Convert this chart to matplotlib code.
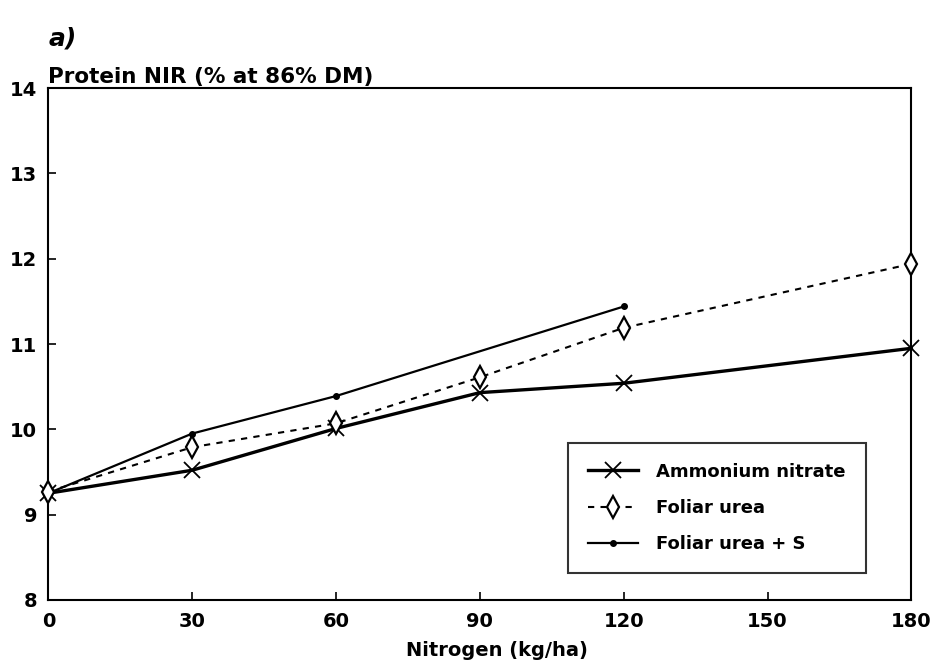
import numpy as np
import matplotlib.pyplot as plt

plt.rcParams['font.family'] = ['DejaVu Sans']
plt.rcParams['font.weight'] = 'bold'

# data
n_an = [0, 30, 60, 90, 120, 180]
an = [9.25, 9.52, 10.01, 10.43, 10.54, 10.95]
n_fu = [0, 30, 60, 90, 120, 180]
fu = [9.27, 9.79, 10.07, 10.61, 11.19, 11.94]
n_fus = [0, 30, 60, 120]
fus = [9.25, 9.95, 10.39, 11.44]

xticks = [0, 30, 60, 90, 120, 150, 180]
yticks = [8, 9, 10, 11, 12, 13, 14]

fig = plt.figure(figsize=(9.3, 6.68), dpi=100)
ax = fig.add_axes([0.052, 0.102, 0.928, 0.766])

ax.plot(n_an, an, color='k', lw=2.4, marker='x', ms=11, mew=1.3,
        label='Ammonium nitrate', clip_on=False, zorder=3)
ax.plot(n_fu, fu, color='k', lw=1.5, ls=(0, (3, 3)), marker='d', ms=11,
        mfc='white', mew=1.6, label='Foliar urea', clip_on=False, zorder=4)
ax.plot(n_fus, fus, color='k', lw=1.6, marker='o', ms=4,
        label='Foliar urea + S', clip_on=False, zorder=3)

ax.set_xlim(0, 180)
ax.set_ylim(8, 14)
ax.set_xticks(xticks)
ax.set_yticks(yticks)
ax.tick_params(direction='in', length=6, width=1.2, labelsize=14, pad=9)
ax.tick_params(axis='y', pad=8)
for s in ax.spines.values():
    s.set_linewidth(1.5)

ax.set_xlabel('Nitrogen (kg/ha)', fontsize=14, fontweight='bold')
ax.xaxis.set_label_coords(0.52, -0.08)
fig.text(0.052, 0.87, 'Protein NIR (% at 86% DM)', fontsize=15.5,
         fontweight='bold', ha='left', va='bottom')
fig.text(0.052, 0.925, 'a)', fontsize=18, fontweight='bold',
         fontstyle='italic', ha='left', va='bottom')

leg = ax.legend(loc='lower right', bbox_to_anchor=(0.947, 0.053), fontsize=13,
                frameon=True, fancybox=False, edgecolor='k',
                borderpad=1.1, labelspacing=1.0, handlelength=2.8,
                handletextpad=1.0, borderaxespad=0)
leg.get_frame().set_linewidth(1.5)
for t in leg.get_texts():
    t.set_fontweight('bold')

fig.savefig('out.png', dpi=100)
